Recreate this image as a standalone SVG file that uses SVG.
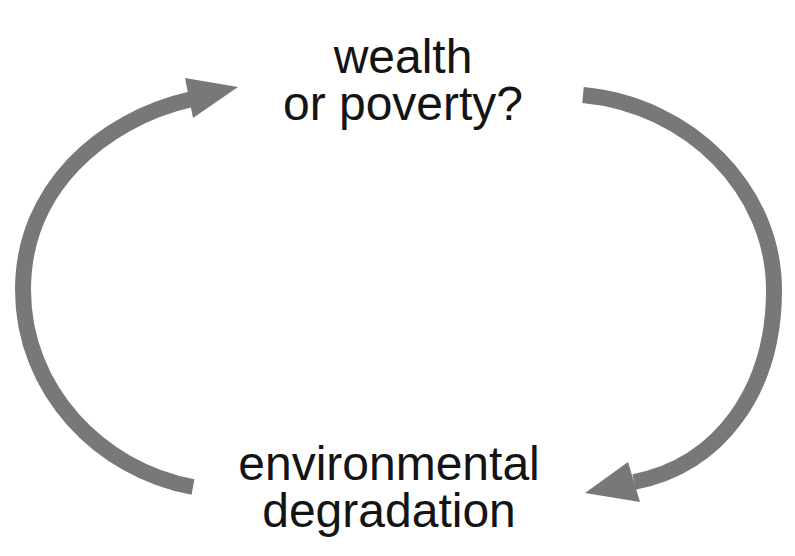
<svg xmlns="http://www.w3.org/2000/svg" width="795" height="556" viewBox="0 0 795 556">
  <style>
    .loop { fill: none; stroke: #787878; stroke-width: 16; stroke-linecap: butt; }
    .head { fill: #787878; }
    .label { font-family: "Liberation Sans", Arial, sans-serif; font-size: 48px; fill: #141414; text-anchor: middle; }
  </style>
  <rect width="795" height="556" fill="#ffffff"/>
  <g id="connectors">
    <!-- left loop: degradation back up to wealth -->
    <path class="loop" d="M193,487 C100,470 23,390 23,290 C23,190 100,120 192,99"/>
    <polygon class="head" points="238,87 185,78 193,118"/>
    <!-- right loop: wealth down to degradation -->
    <path class="loop" d="M583,95 C690,105 774,190 774,290 C774,390 720,465 634,482"/>
    <polygon class="head" points="585,493 628,462 640,502"/>
  </g>
  <g id="node-wealth">
    <text class="label"><tspan x="403" y="73">wealth</tspan><tspan x="403" y="120">or poverty?</tspan></text>
  </g>
  <g id="node-degradation">
    <text class="label"><tspan x="389" y="480">environmental</tspan><tspan x="389" y="527">degradation</tspan></text>
  </g>
</svg>
